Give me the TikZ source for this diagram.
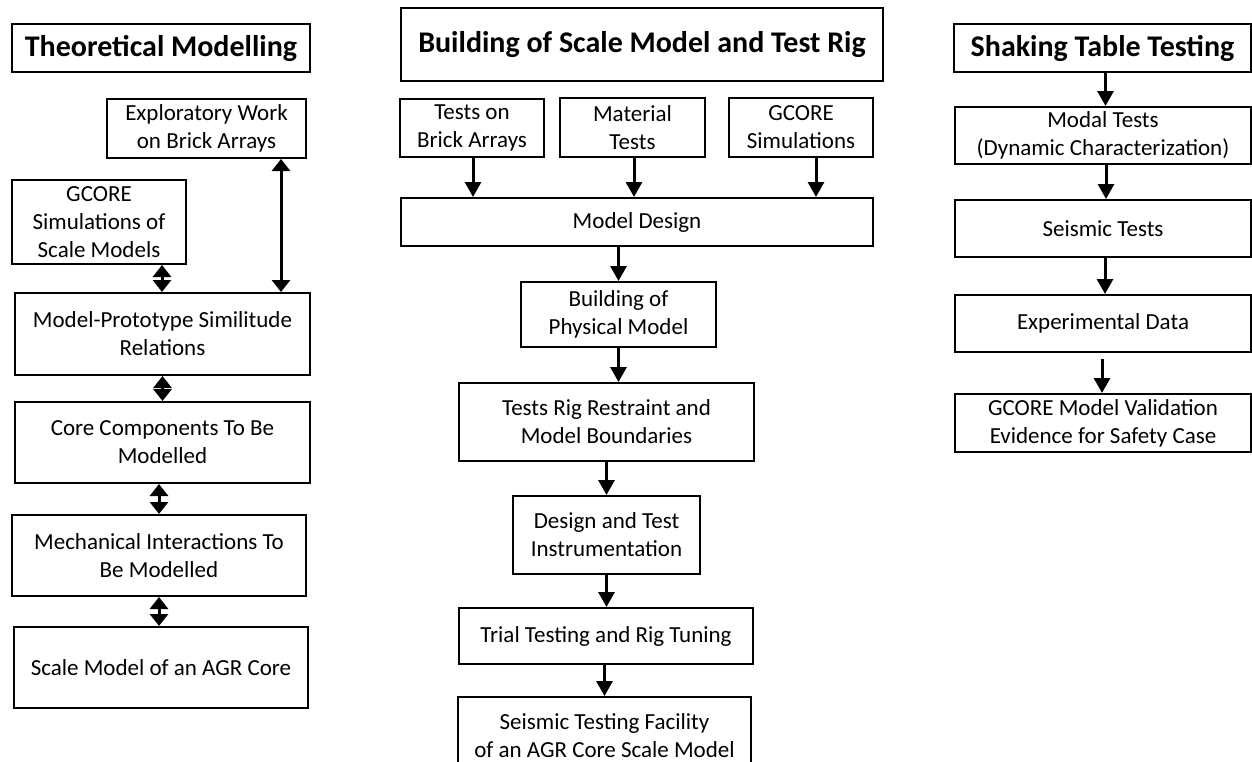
\documentclass[tikz,border=0pt]{standalone}
\usepackage{fontspec}
\setmainfont{Carlito}
\usepackage{tikz}
\usetikzlibrary{arrows.meta,positioning}

\begin{document}
\begin{tikzpicture}[
x=1pt,y=-1pt,
font=\fontsize{23}{28}\selectfont,
box/.style={draw,line width=2pt,align=center,inner sep=0pt},
titlebox/.style={box,font=\fontsize{30}{34}\selectfont\bfseries},
flow/.style={-{Triangle[width=16pt,length=15pt]},line width=3pt},
twoway/.style={{Triangle[width=18pt,length=12pt]}-{Triangle[width=18pt,length=12pt]},line width=3pt}]
    \useasboundingbox (0,0) rectangle (1252,761);

    % Theoretical modelling column
    \node[titlebox,minimum width=298pt,minimum height=48pt] (tTitle) at (161,48) {Theoretical Modelling};
    \node[box,minimum width=199pt,minimum height=59pt] (tExplore) at (206.5,128.5) {Exploratory Work\\on Brick Arrays};
    \node[box,minimum width=174pt,minimum height=84pt] (tGcore) at (99,222) {GCORE\\Simulations of\\Scale Models};
    \node[box,minimum width=295pt,minimum height=82pt] (tSimil) at (162.5,334) {Model-Prototype Similitude\\Relations};
    \node[box,minimum width=295pt,minimum height=81pt] (tCore) at (162.5,442.5) {Core Components To Be\\Modelled};
    \node[box,minimum width=294pt,minimum height=81pt] (tMech) at (159,555.5) {Mechanical Interactions To\\Be Modelled};
    \node[box,minimum width=294pt,minimum height=81pt] (tAgr) at (161,667.5) {Scale Model of an AGR Core};

    \coordinate (tG) at ([xshift=63pt]tGcore.south);
    \coordinate (tE) at ([xshift=74.5pt]tExplore.south);
    \draw[twoway] (tG) -- (tG |- tSimil.north);
    \draw[twoway] (tE) -- (tE |- tSimil.north);
    \draw[twoway] (tSimil.south) -- (tSimil.south |- tCore.north);
    \draw[twoway] (tMech.north |- tCore.south) -- (tMech.north);
    \draw[twoway] (tMech.south) -- (tMech.south |- tAgr.north);

    % Scale model and test rig column
    \node[titlebox,minimum width=482pt,minimum height=73pt] (mTitle) at (642,44.5) {Building of Scale Model and Test Rig};
    \node[box,minimum width=144pt,minimum height=58pt] (mBrick) at (472,128) {Tests on\\Brick Arrays};
    \node[box,minimum width=145pt,minimum height=59pt] (mMat) at (632.5,127.5) {Material\\Tests};
    \node[box,minimum width=144pt,minimum height=59pt] (mSim) at (801,127.5) {GCORE\\Simulations};
    \node[box,minimum width=472pt,minimum height=48pt] (mDesign) at (637,222) {Model Design};
    \node[box,minimum width=195pt,minimum height=65pt] (mPhys) at (618.5,314.5) {Building of\\Physical Model};
    \node[box,minimum width=295pt,minimum height=78pt] (mRig) at (606.5,422) {Tests Rig Restraint and\\Model Boundaries};
    \node[box,minimum width=187pt,minimum height=78pt] (mInst) at (606.5,535) {Design and Test\\Instrumentation};
    \node[box,minimum width=294pt,minimum height=56pt] (mTrial) at (606,636) {Trial Testing and Rig Tuning};
    \node[box,minimum width=293pt,minimum height=77pt] (mFac) at (604.5,735.5) {Seismic Testing Facility\\of an AGR Core Scale Model};

    \draw[flow] ([xshift=1pt]mBrick.south) -- ([xshift=1pt]mBrick.south |- mDesign.north);
    \draw[flow] ([xshift=1.5pt]mMat.south) -- ([xshift=1.5pt]mMat.south |- mDesign.north);
    \draw[flow] ([xshift=15pt]mSim.south) -- ([xshift=15pt]mSim.south |- mDesign.north);
    \draw[flow] (mPhys.north |- mDesign.south) -- (mPhys.north);
    \draw[flow] (mPhys.south) -- (mPhys.south |- mRig.north);
    \draw[flow] (mRig.south) -- (mRig.south |- mInst.north);
    \draw[flow] (mInst.south) -- (mInst.south |- mTrial.north);
    \draw[flow] (mFac.north |- mTrial.south) -- (mFac.north);

    % Shaking table column
    \node[titlebox,minimum width=297pt,minimum height=48pt] (rTitle) at (1102.5,48) {Shaking Table Testing};
    \node[box,minimum width=296pt,minimum height=57pt] (rModal) at (1103,135.5) {Modal Tests\\(Dynamic Characterization)};
    \node[box,minimum width=296pt,minimum height=57pt] (rSeis) at (1103,228.5) {Seismic Tests};
    \node[box,minimum width=296pt,minimum height=57pt] (rExp) at (1103,323.5) {Experimental Data};
    \node[box,minimum width=296pt,minimum height=58pt] (rVal) at (1103,423) {GCORE Model Validation\\Evidence for Safety Case};

    \draw[flow] ([xshift=3pt]rTitle.south) -- ([xshift=3pt]rTitle.south |- rModal.north);
    \draw[flow] ([xshift=3pt]rModal.south) -- ([xshift=3pt]rModal.south |- rSeis.north);
    \draw[flow] ([xshift=2pt]rSeis.south) -- ([xshift=2pt]rSeis.south |- rExp.north);
    \draw[flow,shorten <=6pt] ([xshift=-1pt]rExp.south) -- ([xshift=-1pt]rExp.south |- rVal.north);

\end{tikzpicture}
\end{document}
